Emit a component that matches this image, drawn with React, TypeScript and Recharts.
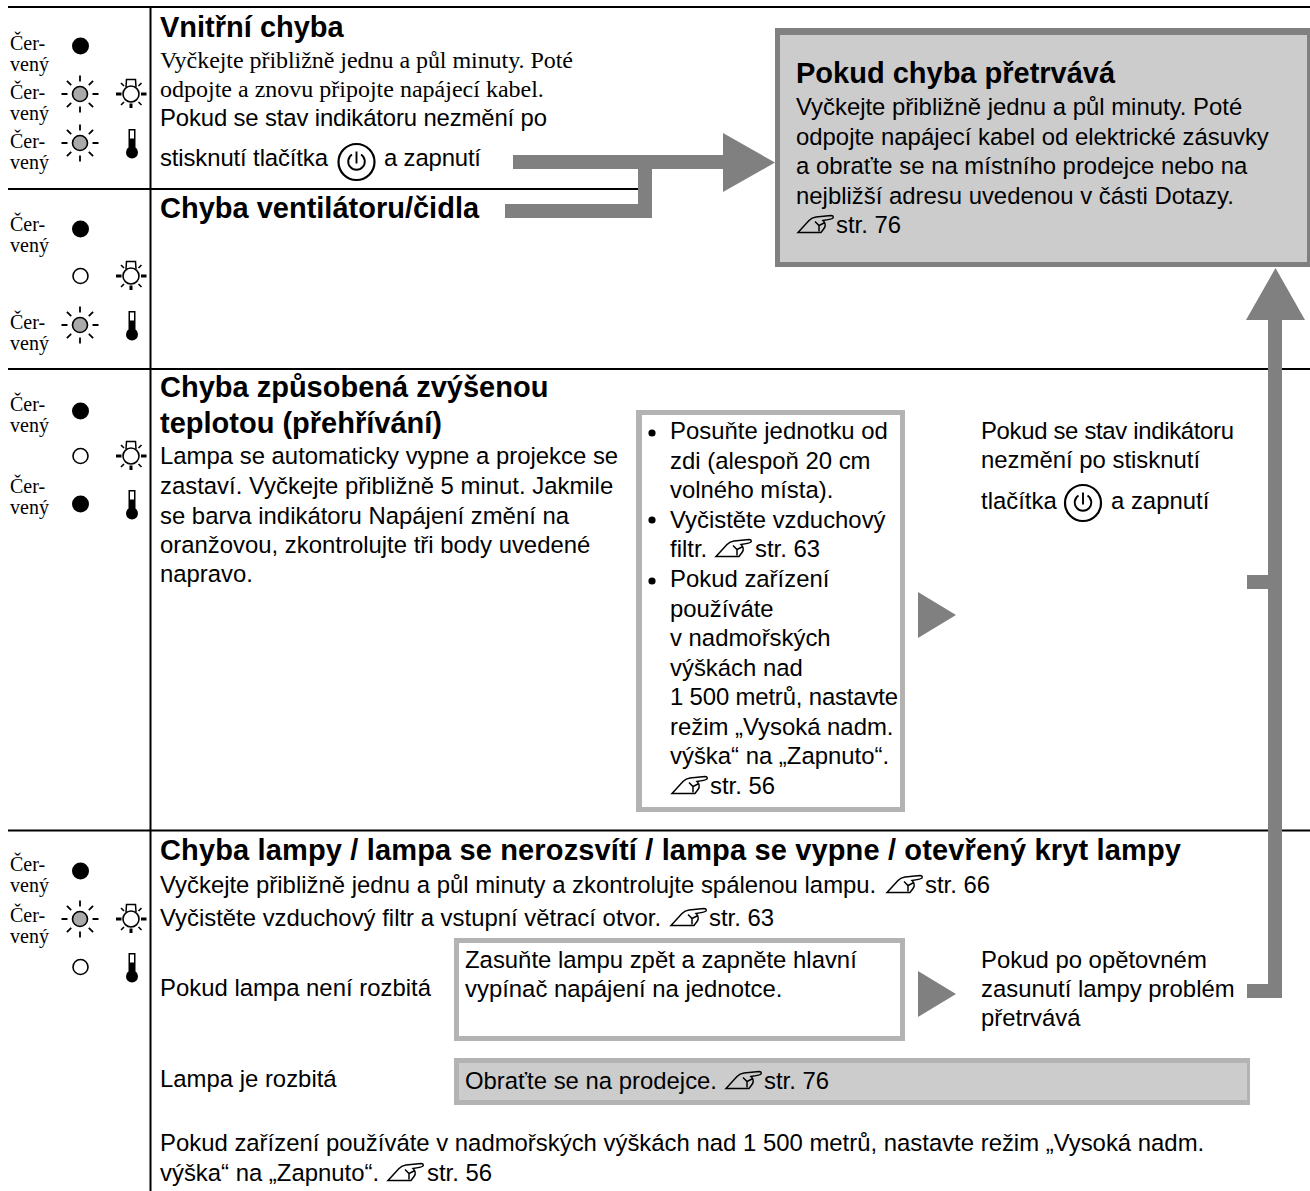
import { ReferenceArea, Scatter, ScatterChart, XAxis, YAxis } from "recharts";

const SANS = "'Liberation Sans', Arial, sans-serif";
const SERIF = "'Liberation Serif', 'Times New Roman', serif";
const GREY = "#808080";
const PAGE_W = 1310;
const PAGE_H = 1191;

type Box = { x1: number; x2: number; y1: number; y2: number; fill: string };
type TextLine = { x: number; y: number; text: string; w?: number };
type Pt = { x: number; y: number };

// page is one coordinate system: x = 0..1310, y = 0..1191 downwards
const rules: Box[] = [
  { x1: 8, x2: 1310, y1: 6, y2: 8, fill: "#000" },
  { x1: 8, x2: 638, y1: 188, y2: 190, fill: "#000" },
  { x1: 8, x2: 1310, y1: 368, y2: 370, fill: "#000" },
  { x1: 8, x2: 1310, y1: 829.5, y2: 831.5, fill: "#000" },
  { x1: 149.5, x2: 151.5, y1: 6, y2: 1191, fill: "#000" },
];

const panels: Box[] = [
  { x1: 775, x2: 1311, y1: 28, y2: 267, fill: GREY },
  { x1: 780, x2: 1307, y1: 35, y2: 262, fill: "#cccccc" },
  { x1: 636, x2: 905, y1: 410, y2: 812, fill: "#b3b3b3" },
  { x1: 642, x2: 900, y1: 415, y2: 807, fill: "#ffffff" },
  { x1: 454, x2: 905, y1: 938, y2: 1041, fill: "#b3b3b3" },
  { x1: 459, x2: 900, y1: 943, y2: 1036, fill: "#ffffff" },
  { x1: 454, x2: 1250, y1: 1058, y2: 1105, fill: "#b3b3b3" },
  { x1: 459, x2: 1247, y1: 1063, y2: 1100, fill: "#cccccc" },
];

const connectors: Box[] = [
  { x1: 513, x2: 724, y1: 155, y2: 169, fill: GREY },
  { x1: 505, x2: 652, y1: 204, y2: 218, fill: GREY },
  { x1: 638, x2: 652, y1: 155, y2: 218, fill: GREY },
  { x1: 1268, x2: 1282, y1: 319, y2: 998, fill: GREY },
  { x1: 1247, x2: 1268, y1: 575, y2: 589, fill: GREY },
  { x1: 1247, x2: 1268, y1: 984, y2: 998, fill: GREY },
];

const bigRightArrows: Pt[] = [{ x: 723, y: 162.5 }];
const smallRightArrows: Pt[] = [
  { x: 918, y: 615 },
  { x: 918, y: 994 },
];
const upArrows: Pt[] = [{ x: 1275.5, y: 320 }];

const headings: TextLine[] = [
  { x: 160, y: 37, text: "Vnitřní chyba" },
  { x: 160, y: 218, text: "Chyba ventilátoru/čidla" },
  { x: 160, y: 397, text: "Chyba způsobená zvýšenou" },
  { x: 160, y: 433, text: "teplotou (přehřívání)" },
  { x: 160, y: 860, text: "Chyba lampy / lampa se nerozsvítí / lampa se vypne / otevřený kryt lampy", w: 1021 },
  { x: 796, y: 83, text: "Pokud chyba přetrvává" },
];

const serifLines: TextLine[] = [
  { x: 160, y: 68, text: "Vyčkejte přibližně jednu a půl minuty. Poté", w: 413 },
  { x: 160, y: 97, text: "odpojte a znovu připojte napájecí kabel." },
];

const colourLabelRows = [50, 99, 148, 231, 329, 411, 493, 871, 922];

const bodyLines: TextLine[] = [
  { x: 160, y: 126, text: "Pokud se stav indikátoru nezmění po", w: 387 },
  { x: 160, y: 166, text: "stisknutí tlačítka", w: 168 },
  { x: 384, y: 166, text: "a zapnutí", w: 97 },
  { x: 796, y: 115, text: "Vyčkejte přibližně jednu a půl minuty. Poté" },
  { x: 796, y: 144.5, text: "odpojte napájecí kabel od elektrické zásuvky" },
  { x: 796, y: 174, text: "a obraťte se na místního prodejce nebo na" },
  { x: 796, y: 203.5, text: "nejbližší adresu uvedenou v části Dotazy." },
  { x: 836, y: 233, text: "str. 76" },
  { x: 160, y: 464, text: "Lampa se automaticky vypne a projekce se" },
  { x: 160, y: 494, text: "zastaví. Vyčkejte přibližně 5 minut. Jakmile" },
  { x: 160, y: 523.5, text: "se barva indikátoru Napájení změní na" },
  { x: 160, y: 553, text: "oranžovou, zkontrolujte tři body uvedené" },
  { x: 160, y: 582, text: "napravo." },
  { x: 670, y: 439, text: "Posuňte jednotku od" },
  { x: 670, y: 468.5, text: "zdi (alespoň 20 cm" },
  { x: 670, y: 498, text: "volného místa)." },
  { x: 670, y: 527.5, text: "Vyčistěte vzduchový" },
  { x: 670, y: 557, text: "filtr." },
  { x: 755, y: 557, text: "str. 63" },
  { x: 670, y: 587, text: "Pokud zařízení" },
  { x: 670, y: 616.5, text: "používáte" },
  { x: 670, y: 646, text: "v nadmořských" },
  { x: 670, y: 675.5, text: "výškách nad" },
  { x: 670, y: 705, text: "1 500 metrů, nastavte", w: 228 },
  { x: 670, y: 734.5, text: "režim „Vysoká nadm." },
  { x: 670, y: 764, text: "výška“ na „Zapnuto“." },
  { x: 710, y: 794, text: "str. 56" },
  { x: 981, y: 439, text: "Pokud se stav indikátoru", w: 253 },
  { x: 981, y: 468, text: "nezmění po stisknutí" },
  { x: 981, y: 509, text: "tlačítka" },
  { x: 1111, y: 509, text: "a zapnutí" },
  { x: 160, y: 893, text: "Vyčkejte přibližně jednu a půl minuty a zkontrolujte spálenou lampu." },
  { x: 925, y: 893, text: "str. 66" },
  { x: 160, y: 926, text: "Vyčistěte vzduchový filtr a vstupní větrací otvor." },
  { x: 709, y: 926, text: "str. 63" },
  { x: 160, y: 996, text: "Pokud lampa není rozbitá" },
  { x: 160, y: 1087, text: "Lampa je rozbitá" },
  { x: 465, y: 968, text: "Zasuňte lampu zpět a zapněte hlavní" },
  { x: 465, y: 997, text: "vypínač napájení na jednotce." },
  { x: 981, y: 968, text: "Pokud po opětovném" },
  { x: 981, y: 997, text: "zasunutí lampy problém" },
  { x: 981, y: 1026, text: "přetrvává" },
  { x: 465, y: 1089, text: "Obraťte se na prodejce." },
  { x: 764, y: 1089, text: "str. 76" },
  { x: 160, y: 1151, text: "Pokud zařízení používáte v nadmořských výškách nad 1 500 metrů, nastavte režim „Vysoká nadm." },
  { x: 160, y: 1181, text: "výška“ na „Zapnuto“." },
  { x: 427, y: 1181, text: "str. 56" },
];

const pageRefIcons: Pt[] = [
  { x: 798, y: 232.5 },
  { x: 716, y: 556.5 },
  { x: 672, y: 793.5 },
  { x: 887, y: 892.5 },
  { x: 671, y: 925.5 },
  { x: 726, y: 1088.5 },
  { x: 388, y: 1180.5 },
];

const powerButtons: Pt[] = [
  { x: 356.5, y: 162 },
  { x: 1083, y: 503 },
];
const bullets: Pt[] = [
  { x: 652, y: 433 },
  { x: 652, y: 520 },
  { x: 652, y: 581 },
];

const solidLeds: Pt[] = [
  { x: 80.5, y: 46 },
  { x: 80.5, y: 229 },
  { x: 80.5, y: 411 },
  { x: 80.5, y: 504 },
  { x: 80.5, y: 871 },
];
const openLeds: Pt[] = [
  { x: 80.5, y: 276 },
  { x: 80.5, y: 456 },
  { x: 80.5, y: 967 },
];
const flashingLeds: Pt[] = [
  { x: 80, y: 94 },
  { x: 80, y: 143 },
  { x: 80, y: 325 },
  { x: 80, y: 919 },
];
const lampIcons: Pt[] = [
  { x: 131, y: 94 },
  { x: 131, y: 276 },
  { x: 131, y: 456 },
  { x: 131, y: 919 },
];
const tempIcons: Pt[] = [
  { x: 132, y: 143 },
  { x: 132, y: 325 },
  { x: 132, y: 504 },
  { x: 132, y: 967 },
];

const makeText =
  (family: string, size: number, weight: string | number = "normal") =>
  ({ cx, cy, payload }: any) => (
    <text
      x={cx}
      y={cy}
      fontFamily={family}
      fontSize={size}
      fontWeight={weight}
      fill="#000"
      textLength={payload.w}
    >
      {payload.text}
    </text>
  );

const BigRightTriangle = ({ cx, cy }: any) => (
  <path d={`M${cx} ${cy - 29.5}L${cx + 52} ${cy}L${cx} ${cy + 29.5}Z`} fill={GREY} />
);
const SmallRightTriangle = ({ cx, cy }: any) => (
  <path d={`M${cx} ${cy - 23}L${cx + 38} ${cy}L${cx} ${cy + 23}Z`} fill={GREY} />
);
const UpTriangle = ({ cx, cy }: any) => (
  <path d={`M${cx - 29.5} ${cy}L${cx} ${cy - 52}L${cx + 29.5} ${cy}Z`} fill={GREY} />
);

const PowerButton = ({ cx, cy }: any) => (
  <g fill="none" stroke="#000">
    <circle cx={cx} cy={cy} r={18} strokeWidth={2.2} />
    <path d={`M${cx - 4.5} ${cy - 7.5}A8.3 8.3 0 1 0 ${cx + 4.5} ${cy - 7.5}`} strokeWidth={1.9} />
    <path d={`M${cx} ${cy - 10.5}V${cy + 1.5}`} strokeWidth={1.9} />
  </g>
);

const HandIcon = ({ cx, cy }: any) => (
  <g transform={`translate(${cx} ${cy})`} fill="none" stroke="#000" strokeWidth={1.5}>
    <path d="M0 0L11 -12Q14 -15 18 -15.5L33 -17Q36 -17 35 -14.5Q33 -13 25 -12Q29 -8 26 -4L23 0Z" />
    <path d="M17 -11L21 -7L27 -10M21 -7L21 -1" />
  </g>
);

const rays = (inner: number, outer: number) => {
  const lines: string[] = [];
  [0, 45, 90, 135, 180, 225, 270, 315].forEach((deg) => {
    const a = (deg * Math.PI) / 180;
    lines.push(
      `M${(Math.cos(a) * inner).toFixed(1)} ${(Math.sin(a) * inner).toFixed(1)}L${(Math.cos(a) * outer).toFixed(1)} ${(Math.sin(a) * outer).toFixed(1)}`,
    );
  });
  return lines.join("");
};

const SolidLed = ({ cx, cy }: any) => <circle cx={cx} cy={cy} r={8.5} fill="#000" />;
const OpenLed = ({ cx, cy }: any) => (
  <circle cx={cx} cy={cy} r={7.5} fill="#fff" stroke="#000" strokeWidth={1.6} />
);
const FlashingLed = ({ cx, cy }: any) => (
  <g transform={`translate(${cx} ${cy})`} stroke="#000">
    <circle r={7.5} fill="#aaaaaa" strokeWidth={1.6} />
    <path d={rays(12.5, 18.5)} strokeWidth={1.8} fill="none" />
  </g>
);
const LampIcon = ({ cx, cy }: any) => (
  <g transform={`translate(${cx} ${cy})`} stroke="#000" fill="none">
    <path d="M-5 -7L-4.5 -14.5H4.5L5 -7" strokeWidth={1.5} />
    <circle r={8} fill="#fff" strokeWidth={1.6} />
    <path d="M-15 0H-9.5M10 0H15.5M0 9.5V14" strokeWidth={3} />
    <path d="M-10 -11L-7 -8M10.5 -11L7.5 -8M-10 11L-7 8M10.5 11L7.5 8" strokeWidth={1.6} />
  </g>
);
const TempIcon = ({ cx, cy }: any) => (
  <g transform={`translate(${cx} ${cy})`}>
    <rect x={-3.5} y={-14} width={7} height={24} fill="#000" />
    <rect x={-2} y={-12.5} width={4} height={8} fill="#fff" />
    <circle cy={9.5} r={6} fill="#000" />
  </g>
);
const BulletDot = ({ cx, cy }: any) => <circle cx={cx} cy={cy} r={3.6} fill="#000" />;

const colourLabels: TextLine[] = colourLabelRows.flatMap((row) => [
  { x: 10, y: row, text: "Čer-" },
  { x: 10, y: row + 21, text: "vený" },
]);

const area = (b: Box, i: number, prefix: string) => (
  <ReferenceArea
    key={`${prefix}${i}`}
    x1={b.x1}
    x2={b.x2}
    y1={b.y1}
    y2={b.y2}
    fill={b.fill}
    fillOpacity={1}
    stroke="none"
    ifOverflow="visible"
  />
);

const series: [any[], any][] = [
  [bigRightArrows, BigRightTriangle],
  [smallRightArrows, SmallRightTriangle],
  [upArrows, UpTriangle],
  [solidLeds, SolidLed],
  [openLeds, OpenLed],
  [flashingLeds, FlashingLed],
  [lampIcons, LampIcon],
  [tempIcons, TempIcon],
  [bullets, BulletDot],
  [powerButtons, PowerButton],
  [pageRefIcons, HandIcon],
  [headings, makeText(SANS, 29, "bold")],
  [serifLines, makeText(SERIF, 24)],
  [colourLabels, makeText(SERIF, 20)],
  [bodyLines, makeText(SANS, 23.9)],
];

export default function App() {
  return (
    <div style={{ position: "absolute", left: 0, top: 0, width: PAGE_W, height: PAGE_H, background: "#fff" }}>
      <ScatterChart width={PAGE_W} height={PAGE_H} margin={{ top: 0, right: 0, bottom: 0, left: 0 }}>
        <XAxis type="number" dataKey="x" domain={[0, PAGE_W]} hide />
        <YAxis type="number" dataKey="y" domain={[0, PAGE_H]} reversed hide />
        {rules.map((b, i) => area(b, i, "rule"))}
        {panels.map((b, i) => area(b, i, "panel"))}
        {connectors.map((b, i) => area(b, i, "conn"))}
        {series.map(([data, shape], i) => (
          <Scatter key={i} data={data} shape={shape} isAnimationActive={false} />
        ))}
      </ScatterChart>
    </div>
  );
}
